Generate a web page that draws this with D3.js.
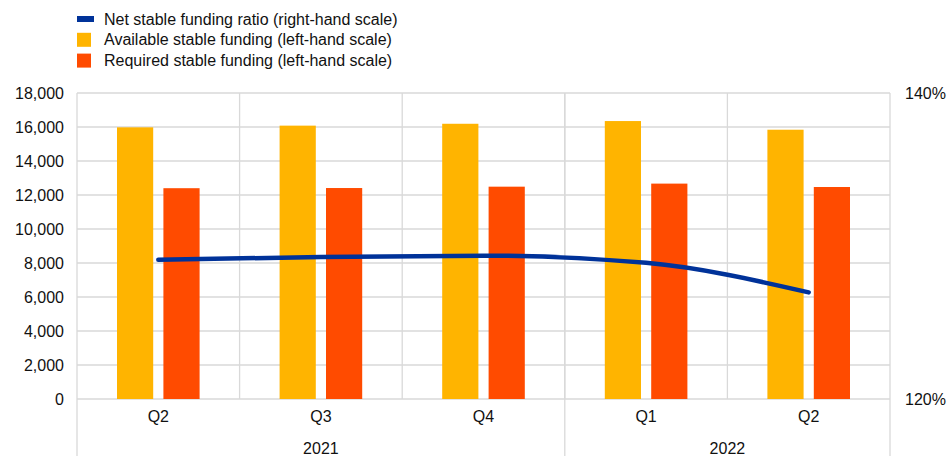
<!DOCTYPE html>
<html>
<head>
<meta charset="utf-8">
<script src="https://cdn.jsdelivr.net/npm/d3@7"></script>
<style>
  body { margin: 0; background: #fff; }
  text { font-family: "Liberation Sans", Arial, sans-serif; fill: #111; }
</style>
</head>
<body>
<div id="chart"></div>
<script>
// quarters and their years
const quarters = ["Q2", "Q3", "Q4", "Q1", "Q2"];
const years = ["2021", "2021", "2021", "2022", "2022"];
const yearGroups = [["2021", 0, 3], ["2022", 3, 5]];

// values (EUR billions and percent)
const availableFunding = [15980, 16080, 16190, 16350, 15840];
const requiredFunding = [12400, 12410, 12490, 12670, 12470];
const nsfrRatio = [129.1, 129.28, 129.37, 128.9, 126.97];

const leftTicks = [0, 2000, 4000, 6000, 8000, 10000, 12000, 14000, 16000, 18000];
const rightTicks = [120, 140];

const legendItems = [
  { label: "Net stable funding ratio (right-hand scale)", color: "#003299", kind: "line" },
  { label: "Available stable funding (left-hand scale)", color: "#FFB400", kind: "box" },
  { label: "Required stable funding (left-hand scale)", color: "#FF4B00", kind: "box" }
];

const width = 947;
const height = 456;
const margin = { top: 93, right: 57, bottom: 57, left: 77 };
const plotW = width - margin.left - margin.right;
const plotH = height - margin.top - margin.bottom;
const gridColor = "#d9d9d9";
const fontSize = "16px";

const svg = d3.select("#chart").append("svg")
  .attr("width", width)
  .attr("height", height);

const idx = quarters.map((d, i) => i);

// scales
const x0 = d3.scaleBand().domain(idx).range([margin.left, margin.left + plotW]);
const x1 = d3.scaleBand().domain(["avail", "req"])
  .range([40, x0.bandwidth() - 40]).paddingInner(0.22);
const yLeft = d3.scaleLinear().domain([0, 18000]).range([margin.top + plotH, margin.top]);
const yRight = d3.scaleLinear().domain([120, 140]).range([margin.top + plotH, margin.top]);

// horizontal grid
svg.append("g")
  .selectAll("line")
  .data(leftTicks)
  .enter()
  .append("line")
  .attr("x1", margin.left)
  .attr("x2", margin.left + plotW)
  .attr("y1", d => yLeft(d))
  .attr("y2", d => yLeft(d))
  .attr("stroke", gridColor)
  .attr("stroke-width", 1.3);

// vertical grid between quarters (inside plot)
svg.append("g")
  .selectAll("line")
  .data(idx.slice(1))
  .enter()
  .append("line")
  .attr("x1", d => x0(d))
  .attr("x2", d => x0(d))
  .attr("y1", margin.top)
  .attr("y2", margin.top + plotH)
  .attr("stroke", gridColor)
  .attr("stroke-width", 1.3);

// long separators (left, year break, right) running down through the labels
const separators = [0, yearGroups[1][1], quarters.length];
svg.append("g")
  .selectAll("line")
  .data(separators)
  .enter()
  .append("line")
  .attr("x1", d => d < quarters.length ? x0(d) : x0(d - 1) + x0.bandwidth())
  .attr("x2", d => d < quarters.length ? x0(d) : x0(d - 1) + x0.bandwidth())
  .attr("y1", margin.top)
  .attr("y2", height)
  .attr("stroke", gridColor)
  .attr("stroke-width", 1.3);

// bars
const groups = svg.append("g")
  .selectAll("g")
  .data(idx)
  .enter()
  .append("g")
  .attr("transform", d => "translate(" + x0(d) + ",0)");

groups.append("rect")
  .attr("x", x1("avail"))
  .attr("width", x1.bandwidth())
  .attr("y", d => yLeft(availableFunding[d]))
  .attr("height", d => yLeft(0) - yLeft(availableFunding[d]))
  .attr("fill", legendItems[1].color);

groups.append("rect")
  .attr("x", x1("req"))
  .attr("width", x1.bandwidth())
  .attr("y", d => yLeft(requiredFunding[d]))
  .attr("height", d => yLeft(0) - yLeft(requiredFunding[d]))
  .attr("fill", legendItems[2].color);

// ratio line
const line = d3.line()
  .x(d => x0(d) + x0.bandwidth() / 2)
  .y(d => yRight(nsfrRatio[d]))
  .curve(d3.curveMonotoneX);

svg.append("path")
  .datum(idx)
  .attr("d", line)
  .attr("fill", "none")
  .attr("stroke", legendItems[0].color)
  .attr("stroke-width", 4.5)
  .attr("stroke-linecap", "round");

// left axis
const yAxisL = d3.axisLeft(yLeft)
  .tickValues(leftTicks)
  .tickFormat(d3.format(","))
  .tickSize(0)
  .tickPadding(13);
const gl = svg.append("g")
  .attr("transform", "translate(" + margin.left + ",0)")
  .call(yAxisL);
gl.select(".domain").remove();
gl.selectAll("text").style("font-size", fontSize).attr("dy", "0.35em");

// right axis
const yAxisR = d3.axisRight(yRight)
  .tickValues(rightTicks)
  .tickFormat(d => d + "%")
  .tickSize(0)
  .tickPadding(15);
const gr = svg.append("g")
  .attr("transform", "translate(" + (margin.left + plotW) + ",0)")
  .call(yAxisR);
gr.select(".domain").remove();
gr.selectAll("text").style("font-size", fontSize).attr("dy", "0.35em");

// quarter labels
const xAxis = d3.axisBottom(x0)
  .tickFormat(d => quarters[d])
  .tickSize(0)
  .tickPadding(12);
const gx = svg.append("g")
  .attr("transform", "translate(0," + (margin.top + plotH) + ")")
  .call(xAxis);
gx.select(".domain").remove();
gx.selectAll("text").style("font-size", fontSize);

// year labels
svg.append("g")
  .selectAll("text")
  .data(yearGroups)
  .enter()
  .append("text")
  .attr("x", d => (x0(d[1]) + x0(d[2] - 1) + x0.bandwidth()) / 2)
  .attr("y", 454)
  .attr("text-anchor", "middle")
  .style("font-size", fontSize)
  .text(d => d[0]);

// legend
const legend = svg.append("g")
  .selectAll("g")
  .data(legendItems)
  .enter()
  .append("g")
  .attr("transform", (d, i) => "translate(77," + (19 + i * 20.8) + ")");

legend.filter(d => d.kind === "line")
  .append("rect")
  .attr("x", 0)
  .attr("y", -3)
  .attr("width", 17)
  .attr("height", 6)
  .attr("fill", d => d.color);

legend.filter(d => d.kind === "box")
  .append("rect")
  .attr("x", 0)
  .attr("y", -7)
  .attr("width", 14)
  .attr("height", 14)
  .attr("fill", d => d.color);

legend.append("text")
  .attr("x", 27)
  .attr("y", 0)
  .attr("dy", "0.35em")
  .style("font-size", fontSize)
  .text(d => d.label);
</script>
</body>
</html>
